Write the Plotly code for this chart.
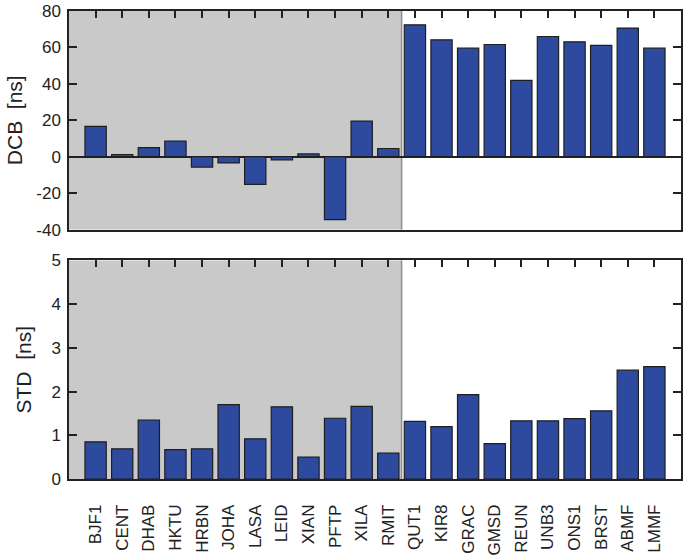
import plotly.graph_objects as go
from plotly.subplots import make_subplots

stations = ["BJF1", "CENT", "DHAB", "HKTU", "HRBN", "JOHA", "LASA", "LEID", "XIAN", "PFTP",
            "XILA", "RMIT", "QUT1", "KIR8", "GRAC", "GMSD", "REUN", "UNB3", "ONS1", "BRST",
            "ABMF", "LMMF"]
dcb = [16.7, 1.2, 5.0, 8.5, -5.7, -3.4, -15.2, -1.7, 1.5, -34.6, 19.5, 4.5,
       72.4, 64.2, 59.6, 61.6, 41.9, 66.0, 63.1, 61.1, 70.6, 59.6]
std = [0.85, 0.69, 1.35, 0.67, 0.69, 1.70, 0.92, 1.65, 0.50, 1.39, 1.66, 0.59,
       1.32, 1.20, 1.93, 0.81, 1.33, 1.33, 1.38, 1.56, 2.49, 2.57]
dcb_ticks = [-40, -20, 0, 20, 40, 60, 80]
dcb_tick_labels = ["-40", "-20", "0", "20", "40", "60", "80"]
n_shaded = 12

idx = list(range(len(stations)))
bar_color = "#2e4a9f"
edge = "#1e1e1e"
font_fam = "Liberation Sans, Arial, sans-serif"

fig = make_subplots(rows=2, cols=1, shared_xaxes=False, vertical_spacing=0.066)

fig.add_trace(go.Bar(x=idx, y=dcb, marker=dict(color=bar_color, line=dict(color=edge, width=1.2)),
                     width=0.8, showlegend=False), row=1, col=1)
fig.add_trace(go.Bar(x=idx, y=std, marker=dict(color=bar_color, line=dict(color=edge, width=1.2)),
                     width=0.8, showlegend=False), row=2, col=1)

xr = [-1, len(stations)]
boundary = n_shaded - 0.5

for yref in ["y domain", "y2 domain"]:
    xref = "x" if yref == "y domain" else "x2"
    fig.add_shape(type="rect", xref=xref, yref=yref, x0=xr[0], x1=boundary, y0=0, y1=1,
                  fillcolor="#c9c9c9", line=dict(width=0), layer="below")
    fig.add_shape(type="line", xref=xref, yref=yref, x0=boundary, x1=boundary, y0=0, y1=1,
                  line=dict(color="#8e8e8e", width=1.5), layer="below")

axis_common = dict(showline=True, linecolor="#222", linewidth=1.5, showgrid=False,
                   automargin=False, tickcolor="#222", tickwidth=1.5)

fig.update_layout(
    width=685, height=557,
    margin=dict(l=69, r=4, t=11, b=78),
    paper_bgcolor="white", plot_bgcolor="white",
    font=dict(family=font_fam, size=17, color="#222"),
    bargap=0.2,
    xaxis=dict(domain=[0, 1], range=xr, type="linear", tickvals=idx, showticklabels=False,
               side="top", ticks="inside", ticklen=7, mirror=True, zeroline=False, **axis_common),
    xaxis2=dict(domain=[0, 1], range=xr, type="linear", tickvals=idx, ticktext=stations,
                tickangle=-90, ticks="inside", ticklen=7, mirror="ticks", zeroline=False,
                layer="below traces", ticklabelstandoff=17,
                tickfont=dict(size=17), **axis_common),
    yaxis=dict(domain=[0.533, 1], range=[-40, 80], tickvals=dcb_ticks, ticktext=dcb_tick_labels,
               ticks="inside", ticklen=8, mirror="ticks", zeroline=True,
               zerolinecolor="#222", zerolinewidth=1.5, ticklabelstandoff=3,
               title=dict(text="DCB  [ns]", font=dict(size=21), standoff=8), **axis_common),
    yaxis2=dict(domain=[0, 0.467], range=[0, 5], dtick=1, ticks="inside", ticklen=8,
                mirror="ticks", zeroline=False, ticklabelstandoff=3,
                title=dict(text="STD  [ns]", font=dict(size=21), standoff=14), **axis_common),
)

fig.write_html("out.html", config={"displayModeBar": False},
               post_script="document.body.style.margin='0';")
